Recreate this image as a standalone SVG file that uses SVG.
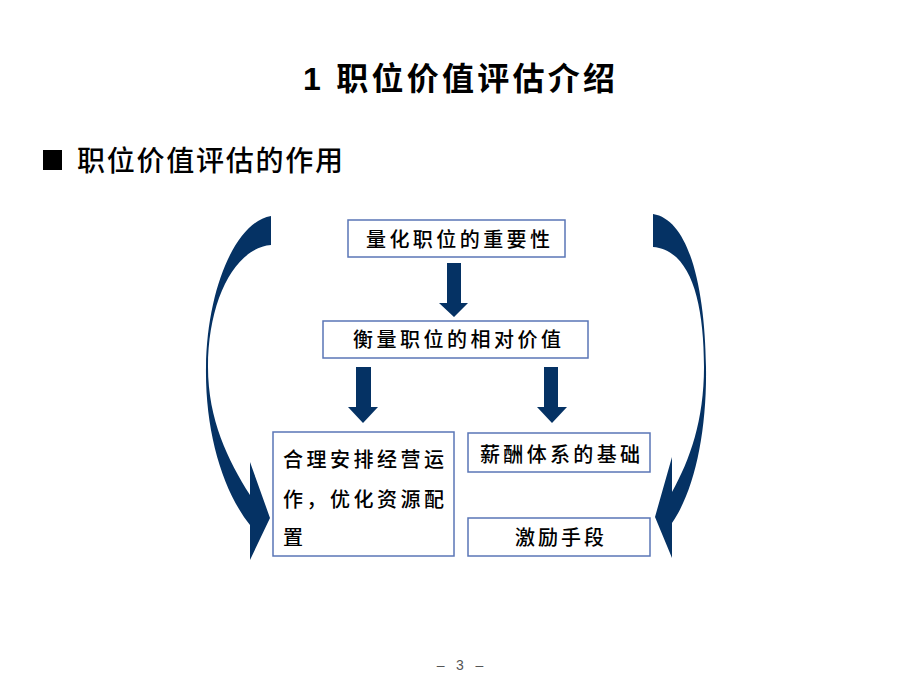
<svg xmlns="http://www.w3.org/2000/svg" width="920" height="690" viewBox="0 0 920 690">
  <style>
    .box { fill: #ffffff; stroke: #5a76b6; stroke-width: 1.5; }
    .t { font-family: "Noto Sans CJK SC", "Noto Sans", sans-serif; font-size: 20px; font-weight: 500; fill: #000000; }
    .arrow { fill: #053264; }
  </style>
  <rect width="920" height="690" fill="#ffffff"/>

  <g id="title">
    <text x="303" y="90" textLength="312" lengthAdjust="spacing" style="font-family: 'Liberation Sans', 'Noto Sans CJK SC', sans-serif; font-size: 32px; font-weight: bold; fill: #000;">1 职位价值评估介绍</text>
  </g>

  <g id="heading">
    <rect x="43" y="150" width="19" height="20" fill="#000000"/>
    <text x="77" y="171" textLength="266" lengthAdjust="spacing" style="font-family: 'Noto Sans CJK SC', sans-serif; font-size: 28px; font-weight: 500; fill: #000;">职位价值评估的作用</text>
  </g>

  <g id="connectors">
    <!-- left curved arrow -->
    <path class="arrow" d="M 271 216 C 235 222, 207 290, 206 367 C 205 430, 222 490, 250 525 L 250 560 L 270 518 L 250 462 L 250 495 C 228 460, 208 420, 208 367 C 208 300, 235 248, 271 245 Z"/>
    <!-- right curved arrow -->
    <path class="arrow" d="M 653 214 C 690 220, 705 290, 706 367 C 707 430, 695 490, 672 523 L 672 558 L 655 517 L 672 457 L 672 492 C 690 460, 704 420, 704 367 C 704 300, 690 250, 653 247 Z"/>
    <!-- down arrow box1 -> box2 -->
    <path class="arrow" d="M 447 263 L 461 263 L 461 303 L 468 303 L 454 317 L 439 303 L 447 303 Z"/>
    <!-- down arrow left -->
    <path class="arrow" d="M 356 367 L 371 367 L 371 407 L 378 407 L 363 423 L 348 407 L 356 407 Z"/>
    <!-- down arrow right -->
    <path class="arrow" d="M 544 367 L 558 367 L 558 407 L 567 407 L 552 423 L 537 407 L 544 407 Z"/>
  </g>

  <g id="node-quantify">
    <rect class="box" x="348" y="220" width="217" height="37"/>
    <text class="t" x="366" y="247" textLength="184" lengthAdjust="spacing">量化职位的重要性</text>
  </g>

  <g id="node-relative">
    <rect class="box" x="323" y="321" width="265" height="37"/>
    <text class="t" x="353" y="347" textLength="208" lengthAdjust="spacing">衡量职位的相对价值</text>
  </g>

  <g id="node-arrange">
    <rect class="box" x="273" y="432" width="181" height="124"/>
    <text class="t" x="283" y="467" textLength="161" lengthAdjust="spacing">合理安排经营运</text>
    <text class="t" x="283" y="507" textLength="161" lengthAdjust="spacing">作，优化资源配</text>
    <text class="t" x="283" y="545">置</text>
  </g>

  <g id="node-salary">
    <rect class="box" x="468" y="433" width="182" height="39"/>
    <text class="t" x="480" y="462" textLength="160" lengthAdjust="spacing">薪酬体系的基础</text>
  </g>

  <g id="node-incentive">
    <rect class="box" x="468" y="518" width="182" height="38"/>
    <text class="t" x="515" y="545" textLength="89" lengthAdjust="spacing">激励手段</text>
  </g>

  <g id="page-number">
    <text x="460" y="670" text-anchor="middle" style="font-family: 'Liberation Sans', sans-serif; font-size: 14px; fill: #555555;" xml:space="preserve">–   3   –</text>
  </g>
</svg>
